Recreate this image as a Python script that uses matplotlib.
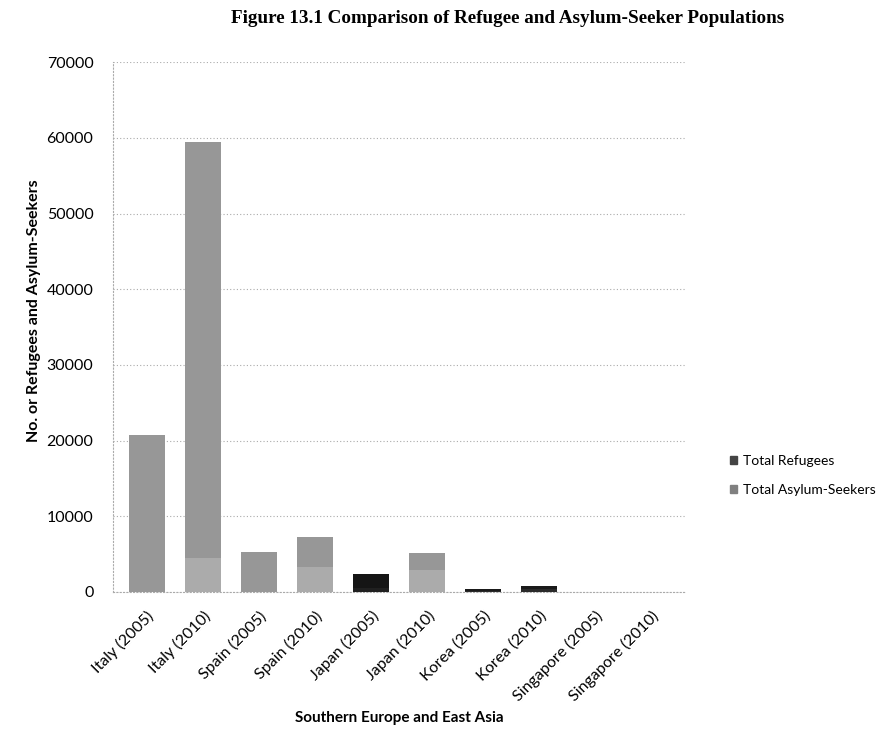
import matplotlib.pyplot as plt
import numpy as np

categories = ['Italy (2005)', 'Italy (2010)', 'Spain (2005)', 'Spain (2010)',
              'Japan (2005)', 'Japan (2010)', 'Korea (2005)', 'Korea (2010)',
              'Singapore (2005)', 'Singapore (2010)']
asylum = [0, 4500, 0, 3300, 500, 2900, 60, 400, 5, 5]
refugees = [20700, 55000, 5300, 3950, 1900, 2250, 330, 300, 5, 5]
yticks = [0, 10000, 20000, 30000, 40000, 50000, 60000, 70000]

# scanned look: small bars came out almost black
ref_colors = ['#979797'] * 10
asy_colors = ['#ababab'] * 10
ref_colors[4] = '#151515'
asy_colors[4] = '#202020'
ref_colors[6] = ref_colors[7] = '#1a1a1a'
asy_colors[6] = asy_colors[7] = '#2a2a2a'

plt.rcParams['font.family'] = ['Lato', 'DejaVu Sans']

fig = plt.figure(figsize=(8.82, 7.51), dpi=100)
ax = fig.add_axes([0.128, 0.212, 0.649, 0.705])

x = np.arange(len(categories))
ax.bar(x, asylum, width=0.64, color=asy_colors, zorder=3)
ax.bar(x, refugees, width=0.64, bottom=asylum, color=ref_colors, zorder=3)

ax.set_xlim(-0.6, len(categories) - 0.4)
ax.set_ylim(0, 70000)
ax.set_yticks(yticks)
ax.set_yticklabels([str(v) for v in yticks], fontsize=11.5)
ax.set_xticks(x)
ax.set_xticklabels(categories, rotation=45, ha='right', rotation_mode='anchor', fontsize=11.5)
ax.tick_params(axis='y', length=0, pad=14)
ax.tick_params(axis='x', length=0, pad=12)

ax.grid(axis='y', linestyle=(0, (1, 2)), color='#aaaaaa', linewidth=0.8, zorder=0)
for s in ['top', 'right']:
    ax.spines[s].set_visible(False)
ax.spines['left'].set_linestyle((0, (1, 2)))
ax.spines['left'].set_color('#aaaaaa')
ax.spines['bottom'].set_linestyle((0, (1, 2)))
ax.spines['bottom'].set_color('#aaaaaa')

ax.set_ylabel('No. or Refugees and Asylum-Seekers', fontsize=11.5, fontweight='bold')
ax.yaxis.set_label_coords(-0.125, 0.53)
ax.set_xlabel('Southern Europe and East Asia', fontsize=11, fontweight='bold', labelpad=5)

fig.text(0.576, 0.975, 'Figure 13.1 Comparison of Refugee and Asylum-Seeker Populations',
         ha='center', va='center', fontsize=13.8, fontweight='bold', family='Liberation Serif')

h1 = plt.Rectangle((0, 0), 1, 1, color='#444444')
h2 = plt.Rectangle((0, 0), 1, 1, color='#808080')
fig.legend([h1, h2], ['Total Refugees', 'Total Asylum-Seekers'], loc='center left',
           bbox_to_anchor=(0.828, 0.367), frameon=False, fontsize=10, borderpad=0,
           borderaxespad=0, handlelength=0.5, handleheight=0.5, handletextpad=0.45,
           labelspacing=1.25)

plt.savefig('out.png')
